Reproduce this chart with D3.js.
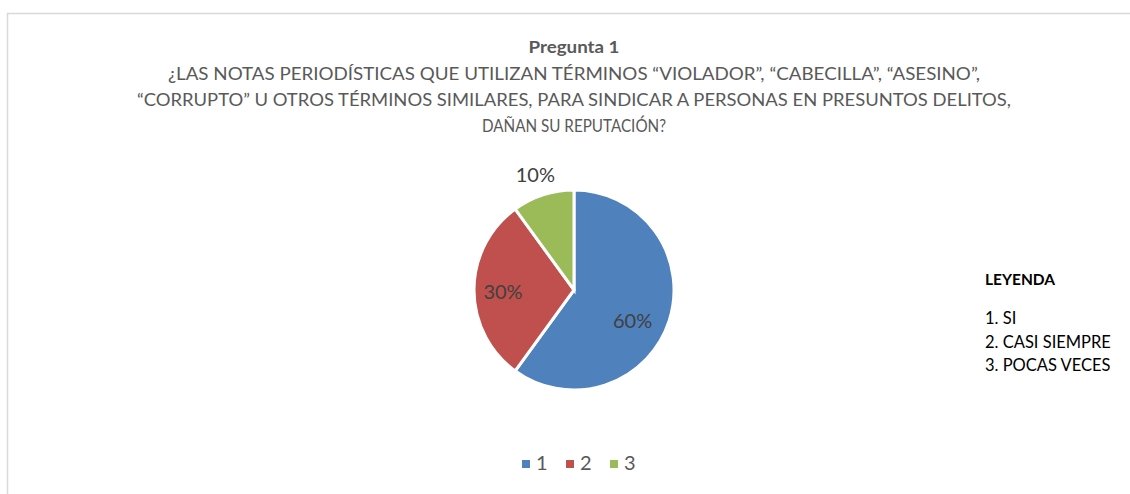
<!DOCTYPE html>
<html>
<head>
<meta charset="utf-8">
<script src="https://cdn.jsdelivr.net/npm/d3@7"></script>
<style>
  body { margin: 0; background: #fff; }
  svg { display: block; font-family: Lato, "Open Sans", sans-serif; }
</style>
</head>
<body>
<div id="chart"></div>
<script>
// Chart data
const categories = ["1", "2", "3"];
const values = [60, 30, 10];
const colors = ["#4f81bd", "#c0504d", "#9bbb59"];
const titleLines = [
    "¿LAS NOTAS PERIODÍSTICAS QUE UTILIZAN TÉRMINOS “VIOLADOR”, “CABECILLA”, “ASESINO”,",
    "“CORRUPTO” U OTROS TÉRMINOS SIMILARES, PARA SINDICAR A PERSONAS EN PRESUNTOS DELITOS,",
    "DAÑAN SU REPUTACIÓN?"
];
const legendItems = ["1. SI", "2. CASI SIEMPRE", "3. POCAS VECES"];

let width = 1130;
let height = 494;
let cx = 574, cy = 290, radius = 100;

let svg = d3.select("#chart").append("svg")
    .attr("width", width)
    .attr("height", height);

// chart area border
svg.append("rect")
    .attr("x", 7.5).attr("y", 13.5)
    .attr("width", width + 20).attr("height", height + 20)
    .attr("fill", "none")
    .attr("stroke", "#d9d9d9")
    .attr("stroke-width", 1.5);

// Title
svg.append("text")
    .attr("x", cx).attr("y", 53)
    .attr("text-anchor", "middle")
    .attr("font-weight", "bold")
    .style("font-size", "17px")
    .attr("fill", "#595959")
    .attr("textLength", 91)
    .attr("lengthAdjust", "spacingAndGlyphs")
    .text("Pregunta 1");

let lineWidths = [812, 874, 184];
svg.append("g").selectAll("text")
    .data(titleLines)
    .join("text")
    .attr("x", cx)
    .attr("y", (d, i) => 80 + i * 26)
    .attr("text-anchor", "middle")
    .style("font-size", "16.5px")
    .attr("fill", "#595959")
    .attr("textLength", (d, i) => lineWidths[i])
    .attr("lengthAdjust", "spacingAndGlyphs")
    .text(d => d);

// Pie
let pie = d3.pie().sort(null).value(d => d);
let arc = d3.arc().innerRadius(0).outerRadius(radius);
let arcs = pie(values);

let g = svg.append("g").attr("transform", `translate(${cx},${cy})`);
g.selectAll("path")
    .data(arcs)
    .join("path")
    .attr("d", arc)
    .attr("fill", (d, i) => colors[i])
    .attr("stroke", "#fff")
    .attr("stroke-width", 3);

// Data labels (first two inside, last outside)
let inner = d3.arc().innerRadius(radius * 0.7).outerRadius(radius * 0.7);
let outer = d3.arc().innerRadius(radius * 1.25).outerRadius(radius * 1.25);
let nudge = [[-8, 11], [-1, 4], [0, 6]];
g.selectAll("text.lbl")
    .data(arcs)
    .join("text")
    .attr("class", "lbl")
    .attr("transform", (d, i) => {
        let p = i === 2 ? outer.centroid(d) : inner.centroid(d);
        return `translate(${p[0] + nudge[i][0]},${p[1] + nudge[i][1]})`;
    })
    .attr("text-anchor", "middle")
    .attr("dominant-baseline", "middle")
    .style("font-size", "20px")
    .attr("fill", "#404040")
    .text(d => d.data + "%");

// Side legend text
svg.append("text")
    .attr("x", 985).attr("y", 285)
    .attr("font-weight", "bold")
    .style("font-size", "15.5px")
    .attr("fill", "#000")
    .text("LEYENDA");

svg.append("g").selectAll("text")
    .data(legendItems)
    .join("text")
    .attr("x", 985)
    .attr("y", (d, i) => 324 + i * 23.5)
    .style("font-size", "16.5px")
    .attr("fill", "#000")
    .text(d => d);

// Bottom legend
let legend = svg.append("g").attr("transform", "translate(522,464)");
let item = legend.selectAll("g")
    .data(categories)
    .join("g")
    .attr("transform", (d, i) => `translate(${i * 44},0)`);
item.append("rect")
    .attr("x", 0).attr("y", -4)
    .attr("width", 8).attr("height", 8)
    .attr("fill", (d, i) => colors[i]);
item.append("text")
    .attr("x", 14).attr("y", 1)
    .attr("dominant-baseline", "middle")
    .style("font-size", "20px")
    .attr("fill", "#595959")
    .text(d => d);
</script>
</body>
</html>
